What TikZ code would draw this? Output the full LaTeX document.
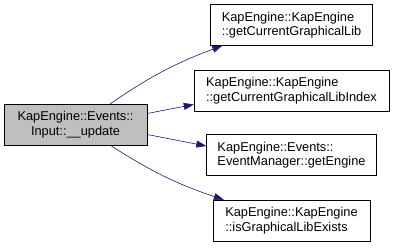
\documentclass[tikz,border=0pt]{standalone}
\usepackage{fontspec}
\setmainfont{Liberation Sans}
\usetikzlibrary{arrows.meta}

\begin{document}
\begin{tikzpicture}[x=1pt, y=-1pt,
  fn/.style={draw, fill=white, align=left, inner xsep=4pt, minimum height=41pt, font=\fontsize{12.8}{14.5}\selectfont},
  root/.style={fn, fill=black!25, align=center},
  call/.style={-{Triangle[length=10pt, width=7pt]}, draw=midnight, semithick},
]
\definecolor{midnight}{HTML}{191970}
\useasboundingbox (0,0) rectangle (395,248);

% caller
\node[root, minimum width=143pt] (update) at (75.5,124.5) {KapEngine::Events::\\Input::\_\_update};

% callees
\node[fn, minimum width=162pt] (curlib)    at (291.5,25)    {KapEngine::KapEngine\\::getCurrentGraphicalLib};
\node[fn, minimum width=195pt] (curindex)  at (291.5,90.5)  {KapEngine::KapEngine\\::getCurrentGraphicalLibIndex};
\node[fn, minimum width=170pt] (getengine) at (291.5,155)   {KapEngine::Events::\\EventManager::getEngine};
\node[fn, minimum width=157pt] (libexists) at (291.5,220.5) {KapEngine::KapEngine\\::isGraphicalLibExists};

% calls
\draw[call] ([xshift=-37pt]update.north east) to[bend left=7] ([xshift=12pt]curlib.south west);
\draw[call] ([yshift=11pt]update.east) -- ([yshift=-14pt]curindex.west);
\draw[call] ([yshift=-10pt]update.east) -- ([yshift=9pt]getengine.west);
\draw[call] ([xshift=-37pt]update.south east) to[bend right=7] ([xshift=11pt]libexists.north west);

\end{tikzpicture}
\end{document}
